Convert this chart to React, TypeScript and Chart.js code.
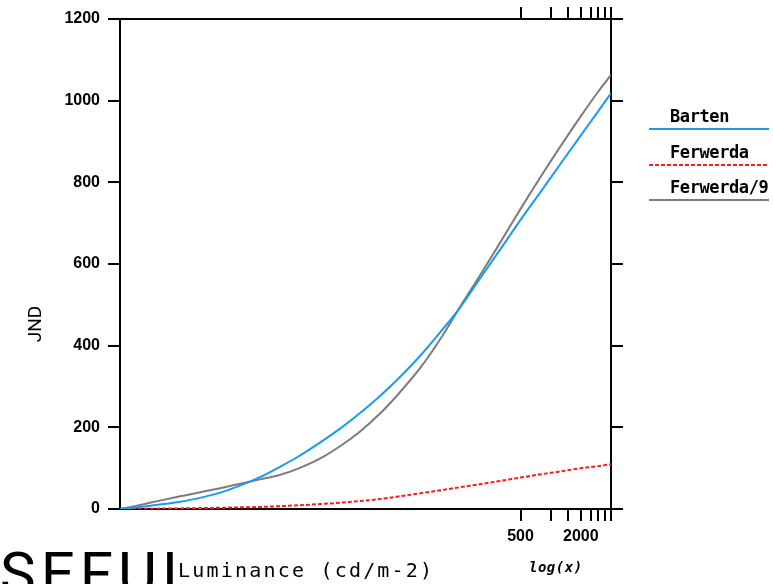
import React, { useEffect, useRef } from 'react';
import { Chart, registerables } from 'chart.js';

Chart.register(...registerables);

// Luminance (cd/m-2), log scale
const luminance = [
  0.05, 0.08, 0.125, 0.2, 0.3, 0.5, 0.8, 1.25, 2, 3, 5, 8, 12.5, 20, 30, 50, 80, 125, 200, 300, 500, 800, 1250, 2000, 3000, 4000,
];
// JND values
const barten = [0, 5, 11, 18, 26, 40, 58, 78, 104, 128, 163, 198, 235, 278, 319, 376, 435, 494, 567, 629, 708, 778, 845, 915, 975, 1018];
const ferwerda = [0, 0.5, 1, 1.5, 2, 3, 4, 5, 7, 9, 12, 15.5, 19.5, 24.5, 30.5, 38.5, 46, 53.5, 61, 68, 77, 85, 92, 100, 105, 110];
const ferwerda9 = [0, 10, 20.5, 31, 40, 51, 62, 72.5, 84, 99, 124, 155, 190, 235, 281, 346, 418, 496, 575, 645, 735, 815, 888, 962, 1023, 1063];

const seriesLabels = ['Barten', 'Ferwerda', 'Ferwerda/9'];
const xTickValues = [500, 1000, 1500, 2000, 2500, 3000, 3500, 4000];
const xTickLabels: Record<number, string> = { 500: '500', 2000: '2000' };
const yTickStep = 200;

const toPoints = (ys: number[]) => ys.map((y, i) => ({ x: luminance[i], y }));

const overlayPlugin = {
  id: 'overlayTexts',
  afterDraw(chart: any) {
    const ctx = chart.ctx as CanvasRenderingContext2D;
    ctx.save();
    // legend
    const ds = chart.data.datasets;
    const textY = [122, 158, 193];
    const lineY = [129, 165, 200];
    ds.forEach((d: any, i: number) => {
      ctx.font = 'bold 17px "DejaVu Sans Mono"';
      (ctx as any).letterSpacing = '-0.4px';
      ctx.fillStyle = '#000';
      ctx.textAlign = 'left';
      ctx.textBaseline = 'alphabetic';
      ctx.fillText(d.label, 670, textY[i]);
      ctx.beginPath();
      ctx.strokeStyle = d.borderColor;
      ctx.lineWidth = 2;
      ctx.setLineDash(d.borderDash || []);
      ctx.moveTo(649, lineY[i]);
      ctx.lineTo(769, lineY[i]);
      ctx.stroke();
      ctx.setLineDash([]);
    });
    // y title
    (ctx as any).letterSpacing = '0px';
    ctx.save();
    ctx.translate(41, 324);
    ctx.rotate(-Math.PI / 2);
    ctx.font = '19px Roboto';
    ctx.textAlign = 'center';
    ctx.textBaseline = 'alphabetic';
    ctx.fillStyle = '#000';
    ctx.fillText('JND', 0, 0);
    ctx.restore();
    // big text
    ctx.font = '60px Roboto';
    (ctx as any).letterSpacing = '5px';
    ctx.fillStyle = '#000';
    ctx.textAlign = 'left';
    ctx.fillText('SEFUI', 0, 594);
    // x title
    ctx.font = '20px "DejaVu Sans Mono"';
    (ctx as any).letterSpacing = '2.2px';
    ctx.fillText('Luminance (cd/m-2)', 178, 577);
    // log(x)
    ctx.font = 'italic bold 14px "DejaVu Sans Mono"';
    (ctx as any).letterSpacing = '0.5px';
    ctx.fillText('log(x)', 529, 572);
    ctx.restore();
  },
};

export default function App() {
  const ref = useRef<HTMLCanvasElement | null>(null);
  useEffect(() => {
    if (!ref.current) return;
    const tickFont = { family: 'Liberation Sans', size: 16, weight: 'bold' as const };
    const xCommon = {
      type: 'logarithmic' as const,
      min: 0.05,
      max: 4000,
      afterBuildTicks: (s: any) => {
        s.ticks = xTickValues.map((v) => ({ value: v }));
      },
      grid: { drawOnChartArea: false, drawTicks: true, tickLength: 12, color: '#000', lineWidth: 2 },
      border: { display: true, color: '#000', width: 2 },
    };
    const yCommon = {
      type: 'linear' as const,
      min: 0,
      max: 1200,
      grid: { drawOnChartArea: false, drawTicks: true, tickLength: 12, color: '#000', lineWidth: 2 },
      border: { display: true, color: '#000', width: 2 },
    };
    const chart = new Chart(ref.current, {
      type: 'line',
      data: {
        datasets: [
          {
            label: seriesLabels[0],
            data: toPoints(barten),
            borderColor: '#1a9af0',
            borderWidth: 2,
            pointRadius: 0,
            cubicInterpolationMode: 'monotone',
          },
          {
            label: seriesLabels[1],
            data: toPoints(ferwerda),
            borderColor: '#ff1a1a',
            borderWidth: 2,
            borderDash: [4, 2],
            pointRadius: 0,
            cubicInterpolationMode: 'monotone',
          },
          {
            label: seriesLabels[2],
            data: toPoints(ferwerda9),
            borderColor: '#7c7c7c',
            borderWidth: 2,
            pointRadius: 0,
            cubicInterpolationMode: 'monotone',
          },
        ],
      },
      options: {
        responsive: false,
        animation: false,
        layout: { padding: 0 },
        plugins: { legend: { display: false }, tooltip: { enabled: false } },
        scales: {
          x: {
            ...xCommon,
            position: 'bottom',
            afterFit: (s: any) => {
              s.height = 75;
            },
            ticks: {
              autoSkip: false,
              maxRotation: 0,
              padding: 6,
              color: '#000',
              font: tickFont,
              callback: (v: any) => xTickLabels[Number(v)] ?? '',
            },
          },
          x2: {
            ...xCommon,
            position: 'top',
            afterFit: (s: any) => {
              s.height = 19;
            },
            ticks: { display: false, autoSkip: false },
          },
          y: {
            ...yCommon,
            position: 'left',
            afterFit: (s: any) => {
              s.width = 120;
            },
            ticks: {
              stepSize: yTickStep,
              padding: 8,
              color: '#000',
              font: tickFont,
              callback: (v: any) => String(v),
            },
          },
          y2: {
            ...yCommon,
            position: 'right',
            afterFit: (s: any) => {
              s.width = 162;
            },
            ticks: { stepSize: yTickStep, display: false },
          },
        },
      } as any,
      plugins: [overlayPlugin],
    });
    return () => chart.destroy();
  }, []);
  return (
    <div style={{ position: 'absolute', left: 0, top: 0, width: 773, height: 584, overflow: 'hidden', background: '#fff' }}>
      <canvas ref={ref} width={773} height={584} style={{ display: 'block' }} />
    </div>
  );
}
